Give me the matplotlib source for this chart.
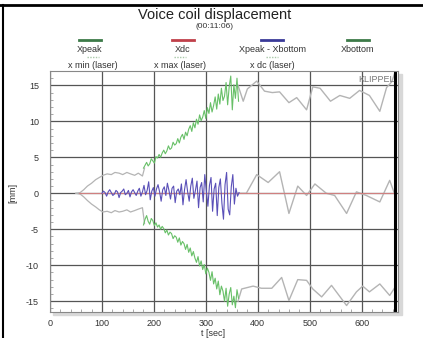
'''
Voice coil displacement over time
'''

import numpy as np
import matplotlib.pyplot as plt
from matplotlib.lines import Line2D
from matplotlib.patches import Rectangle

plt.rcParams['font.family'] = ['Liberation Sans', 'DejaVu Sans']
plt.rcParams['axes.unicode_minus'] = False

# Xpeak / Xbottom (sampled every 3 s from 180 s)
t_peak_start = 180
xpeak = [3.5, 3.9, 4.3, 3.8, 4.1, 4.8, 4.5, 4.2, 5.1, 4.9,
         5.4, 5.0, 5.6, 6.0, 5.5, 5.9, 6.6, 6.1, 6.3, 7.1,
         6.7, 6.9, 7.6, 7.0, 7.8, 8.2, 7.5, 8.5, 8.0, 8.9,
         9.4, 8.6, 9.8, 9.1, 10.3, 9.6, 10.9, 10.1, 10.6, 11.5,
         10.4, 11.9, 11.1, 12.6, 11.3, 12.2, 13.4, 11.7, 13.8, 12.4,
         14.6, 12.9, 13.5, 15.4, 12.3, 14.8, 16.3, 11.6, 15.1, 13.2,
         16.0, 12.8]
xbottom = [-4.4, -3.6, -3.1, -3.9, -4.3, -3.5, -3.8, -4.5, -4.1, -4.7,
           -4.4, -5.0, -4.6, -4.9, -5.5, -5.1, -5.8, -5.4, -5.6, -6.3,
           -5.9, -6.1, -6.8, -6.2, -7.2, -6.7, -7.0, -7.8, -7.1, -8.2,
           -7.6, -8.7, -8.1, -9.0, -9.6, -8.8, -10.1, -9.4, -10.6, -9.9,
           -11.2, -10.4, -11.0, -12.1, -10.9, -12.6, -11.8, -13.3, -12.2, -14.1,
           -12.9, -13.6, -15.0, -13.2, -15.7, -14.0, -13.1, -15.5, -14.3, -15.9,
           -13.4, -14.6]

# Xpeak - Xbottom (sampled every 3 s from 100 s)
t_diff_start = 100
xdiff = [0.0, 0.3, 0.1, -0.4, 0.2, 0.5, 0.1, -0.3, -0.1, 0.4,
         0.2, -0.6, 0.1, 0.3, 0.6, -0.2, 0.0, 0.4, -0.5, 0.2,
         0.5, 0.1, -0.3, 0.3, 0.7, -0.4, 0.2,
         1.1, -0.2, 0.4, 1.6, -0.9, 0.3, 0.8, -0.4, 0.6, 1.2,
         0.2, -1.1, 0.5, 0.9, -0.3, 1.4, 0.4, -0.8, 0.7, 1.0,
         -1.3, 0.3, 0.6, -0.2,
         1.3, -1.6, 0.5, 1.9, 0.2, -1.1, 1.0, 2.1, -0.7, 0.4,
         1.7, -2.0, 0.8, 1.5, -1.2, 2.6, 0.3, -1.8, 1.1, 2.2,
         -2.5, 0.6, 1.4,
         -3.1, 0.8, 2.0, -1.4, -3.6, 1.2, 2.9, -2.2, -3.0, 0.9,
         2.6, -1.5, 0.7, -0.4, 0.1]

# Xdc
t_dc = [55, 665]
xdc = [0.0, 0.0]

# laser measurements, before and after the coil tracking
t_laser_a = [50, 58, 65, 72, 80, 88, 95, 102, 110, 118, 125, 133, 140, 148, 155, 163, 170, 178, 182]
xmax_a = [0, 0.1, 0.5, 1.0, 1.4, 1.9, 2.2, 2.5, 2.7, 2.6, 2.9, 2.8, 2.6, 2.9, 2.7, 2.5, 2.8, 2.4, 3.5]
xmin_a = [0, -0.1, -0.5, -1.0, -1.5, -1.9, -2.3, -2.6, -2.5, -2.7, -2.4, -2.6, -2.5, -2.3, -2.6, -2.4, -2.2, -2.0, -4.2]

t_max_b = [362, 372, 380, 398, 413, 428, 442, 460, 475, 494, 506, 520, 540, 558, 577, 596, 615, 635, 648, 658, 665]
xmax_b = [15.0, 12.8, 14.5, 15.6, 14.2, 14.0, 14.1, 12.6, 13.3, 11.6, 14.8, 14.6, 12.8, 13.6, 13.2, 14.3, 13.6, 11.4, 14.7, 15.5, 17.0]
t_dc_b = [362, 378, 398, 420, 442, 460, 477, 494, 510, 532, 548, 571, 590, 609, 635, 654, 663]
xdc_b = [0.0, 0.0, 2.6, 1.5, 3.0, -2.8, 1.0, -0.3, 1.3, 0.0, -0.3, -2.8, 0.2, -0.3, -1.2, 1.8, 0.0]
t_min_b = [362, 369, 391, 407, 427, 446, 460, 477, 494, 506, 523, 542, 571, 590, 602, 615, 635, 654, 663]
xmin_b = [-15.0, -13.3, -12.9, -13.2, -13.2, -11.7, -14.9, -12.0, -12.1, -13.3, -14.4, -12.8, -15.6, -13.7, -12.9, -13.7, -12.6, -14.2, -13.2]

W, H = 423, 338


def fx(px):
    return px / W


def fy(py):
    return 1 - py / H


fig = plt.figure(figsize=(W / 100, H / 100), dpi=100)

# drop shadow of the plot area
fig.add_artist(Rectangle((fx(53), fy(315)), fx(349), fy(74) - fy(315),
                         transform=fig.transFigure, color='#d8d8d8', zorder=0))

ax = fig.add_axes([fx(50), fy(312), fx(398) - fx(50), fy(71) - fy(312)])
ax.set_facecolor('white')

gray = '#b4b4b4'
ax.plot(t_laser_a, xmax_a, color=gray, lw=0.9)
ax.plot(t_laser_a, xmin_a, color=gray, lw=0.9)
ax.plot(t_max_b, xmax_b, color=gray, lw=1.0)
ax.plot(t_dc_b, xdc_b, color=gray, lw=1.0)
ax.plot(t_min_b, xmin_b, color=gray, lw=1.0)

ax.plot(t_dc, xdc, color='#d08080', lw=0.8)

t_diff = t_diff_start + 3 * np.arange(len(xdiff))
ax.plot(t_diff, xdiff, color='#5a50b8', lw=0.8)

t_peak = t_peak_start + 3 * np.arange(len(xpeak))
ax.plot(t_peak, xpeak, color='#68c068', lw=0.8)
ax.plot(t_peak, xbottom, color='#68c068', lw=0.8)

# end marker
ax.axvline(665, color='black', lw=2.2)

ax.set_xlim(0, 670)
ax.set_ylim(-16.5, 17)
ax.set_xticks([0, 100, 200, 300, 400, 500, 600])
ax.set_yticks([-15, -10, -5, 0, 5, 10, 15])
ax.set_xticks(np.arange(0, 670, 20), minor=True)
ax.set_yticks(np.arange(-16, 17, 1), minor=True)
ax.grid(True, which='major', color='#555555', lw=0.9)
ax.tick_params(which='major', length=0, labelsize=6.5, labelcolor='#333333')
ax.tick_params(axis='y', which='major', pad=8)
ax.tick_params(axis='x', which='major', pad=5)
ax.tick_params(which='minor', direction='in', length=2.5, color='#999999', width=0.6)
for s in ax.spines.values():
    s.set_color('#888888')
    s.set_linewidth(0.8)

fig.text(fx(213), fy(333), 't [sec]', ha='center', va='center', fontsize=6.5, color='#333333')
fig.text(fx(13), fy(193), '[mm]', ha='center', va='center', rotation=90,
         fontsize=6.5, color='#333333')

ax.text(0.99, 0.985, 'KLIPPEL', transform=ax.transAxes, ha='right', va='top',
        fontsize=6.5, color='#777777')

# title
fig.text(fx(215), fy(15), 'Voice coil displacement', ha='center', va='center',
         fontsize=10.5, color='#222222')
fig.text(fx(215), fy(27), '(00:11:06)', ha='center', va='center', fontsize=6,
         color='#333333')

# legend, first row
legend_top = [('Xpeak', 90, '#3c7a48'), ('Xdc', 183, '#c0404a'),
              ('Xpeak - Xbottom', 272, '#3a3a98'), ('Xbottom', 358, '#3c7a48')]
for name, cx, col in legend_top:
    fig.add_artist(Line2D([fx(cx - 11), fx(cx + 11)], [fy(40), fy(40)],
                          transform=fig.transFigure, color=col, lw=2))
    fig.text(fx(cx), fy(49), name, ha='center', va='center', fontsize=6.5, color='#333333')

# legend, second row
legend_laser = [('x min (laser)', 93), ('x max (laser)', 180), ('x dc (laser)', 272)]
for name, cx in legend_laser:
    fig.add_artist(Line2D([fx(cx - 6), fx(cx + 6)], [fy(57), fy(57)],
                          transform=fig.transFigure, color='#a8c8a8', lw=1, ls=(0, (1, 1))))
    fig.text(fx(cx), fy(65), name, ha='center', va='center', fontsize=6.5, color='#333333')

# page frame
fig.add_artist(Line2D([0, 1], [fy(5), fy(5)], transform=fig.transFigure, color='black', lw=2))
fig.add_artist(Line2D([fx(3), fx(3)], [0, fy(5)], transform=fig.transFigure, color='black', lw=1.5))

fig.savefig('out.png', dpi=100)
